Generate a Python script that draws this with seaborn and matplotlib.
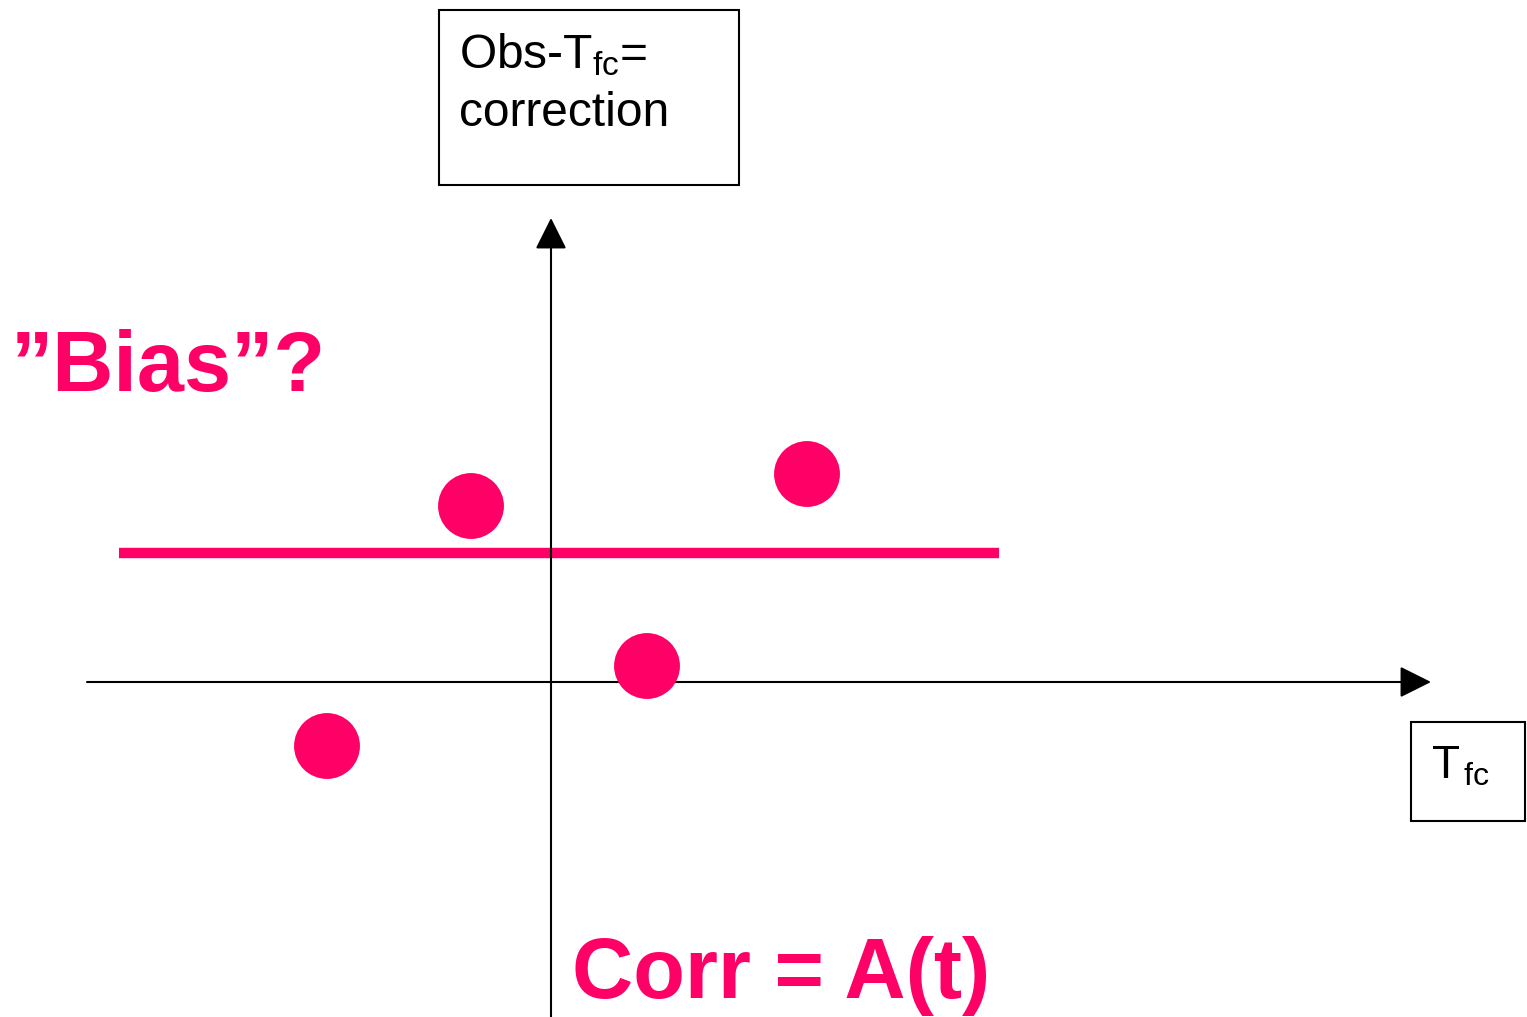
import matplotlib
matplotlib.use("Agg")
import matplotlib.pyplot as plt
from matplotlib.patches import Rectangle
import seaborn as sns
import pandas as pd

# Forecast temperature vs. correction (Obs - T_fc), origin at the axis crossing
t_fc = [-22.4, -8.0, 9.6, 25.6]
correction = [-6.4, 17.6, 1.6, 20.8]

# Constant "bias" correction level
bias_x = [-43.2, 44.8]
bias_y = [12.9, 12.9]

PINK = "#FF0066"

sns.set_theme(style="white")
plt.rcParams["font.family"] = ["Liberation Sans", "DejaVu Sans"]
plt.rcParams["mathtext.fontset"] = "custom"
plt.rcParams["mathtext.rm"] = "Liberation Sans"
plt.rcParams["mathtext.it"] = "Liberation Sans"
plt.rcParams["mathtext.default"] = "regular"
plt.rcParams["text.color"] = "black"

fig = plt.figure(figsize=(15.27, 10.17), dpi=100)
ax = fig.add_axes([0, 0, 1, 1])

# Coordinate axes with arrow heads
arrow_style = dict(arrowstyle="-|>,head_length=1.0,head_width=0.5",
                   mutation_scale=19.5, color="black", lw=1.5,
                   shrinkA=0, shrinkB=0)
ax.annotate("", xy=(88.0, 0), xytext=(-46.4, 0), arrowprops=arrow_style)
ax.annotate("", xy=(0, 46.4), xytext=(0, -33.5), arrowprops=arrow_style)

# Bias line and observations
df_bias = pd.DataFrame({"x": bias_x, "y": bias_y})
sns.lineplot(data=df_bias, x="x", y="y", ax=ax, color=PINK, lw=7.5,
             solid_capstyle="butt")
df = pd.DataFrame({"t_fc": t_fc, "corr": correction})
sns.scatterplot(data=df, x="t_fc", y="corr", ax=ax, color=PINK, s=2250,
                edgecolor="none", zorder=5)
ax.set_xlim(-55.1, 97.6)
ax.set_ylim(-33.5, 68.2)
ax.axis("off")

# Axis label boxes
ax.add_patch(Rectangle((-11.2, 49.7), 30.0, 17.5, fill=False,
                       edgecolor="black", lw=1.5))
ax.text(-9.2, 61.4, "Obs-T$_{fc}$=", fontsize=34.5, va="baseline",
        ha="left", color="black")
ax.text(-9.2, 55.6, "correction", fontsize=34.5, va="baseline",
        ha="left", color="black")

ax.add_patch(Rectangle((86.0, -13.9), 11.4, 9.9, fill=False,
                       edgecolor="black", lw=1.5))
ax.text(88.0, -9.6, "T$_{\\,fc}$", fontsize=33, va="baseline", ha="left",
        color="black")

# Annotations
ax.text(-54.0, 29.1, "\u201dBias\u201d?", fontsize=61, fontweight="bold",
        color=PINK, va="baseline", ha="left")
ax.text(2.1, -31.6, "Corr = A(t)", fontsize=61, fontweight="bold",
        color=PINK, va="baseline", ha="left")

fig.savefig("out.png", dpi=100)
